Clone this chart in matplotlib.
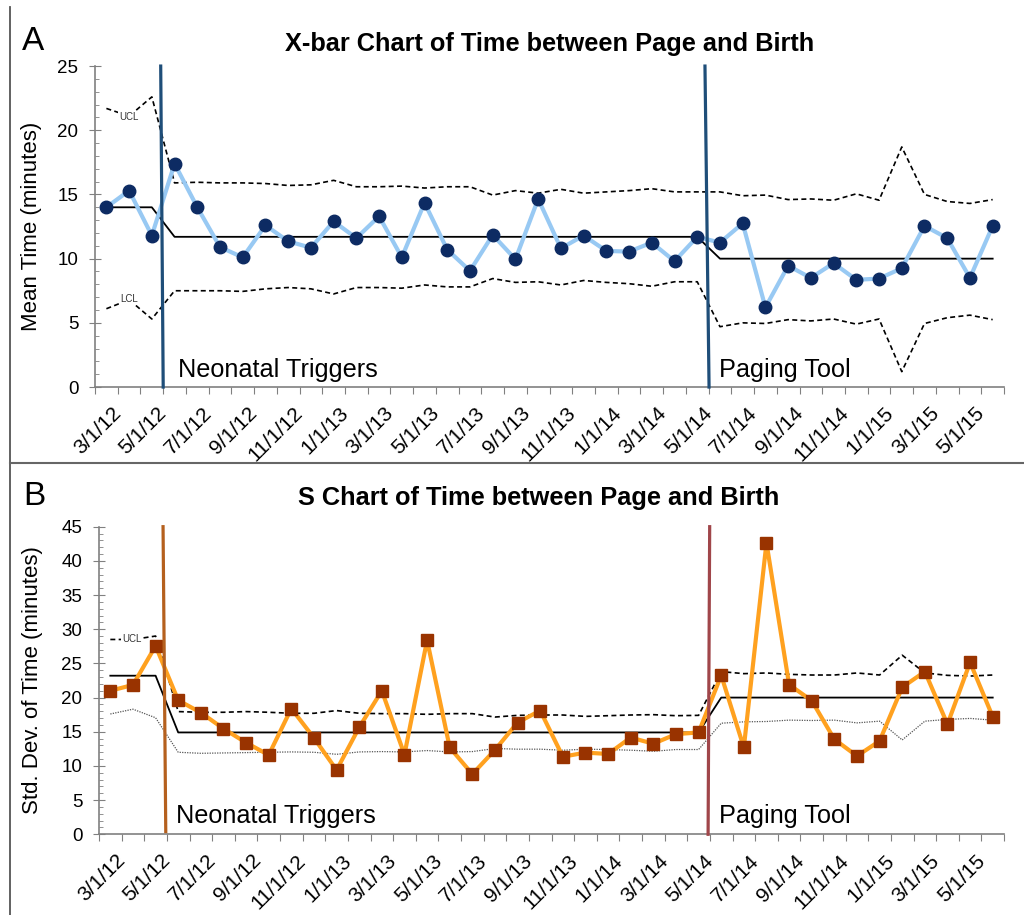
import numpy as np
import matplotlib.pyplot as plt
from matplotlib.lines import Line2D
import matplotlib.transforms as mtransforms

plt.rcParams['font.family'] = ['Liberation Sans', 'DejaVu Sans']

# tick labels (every second month)
month_labels = ['3/1/12', '5/1/12', '7/1/12', '9/1/12', '11/1/12', '1/1/13', '3/1/13',
                '5/1/13', '7/1/13', '9/1/13', '11/1/13', '1/1/14', '3/1/14', '5/1/14',
                '7/1/14', '9/1/14', '11/1/14', '1/1/15', '3/1/15', '5/1/15']

# A: X-bar chart
xbar_mean = [14.0, 15.3, 11.8, 17.4, 14.0, 10.9, 10.1, 12.6, 11.35, 10.85,
             12.9, 11.6, 13.3, 10.1, 14.35, 10.7, 9.05, 11.85, 9.95, 14.65,
             10.8, 11.8, 10.6, 10.55, 11.25, 9.8, 11.7, 11.25, 12.75, 6.2,
             9.45, 8.5, 9.65, 8.35, 8.45, 9.25, 12.55, 11.6, 8.5, 12.55]
xbar_cl = [14.0] * 3 + [11.7] * 24 + [10.0] * 13
xbar_ucl = [21.7, 21.1, 22.6, 15.9, 15.95, 15.9, 15.9, 15.85, 15.7, 15.75,
            16.1, 15.6, 15.6, 15.65, 15.5, 15.6, 15.6, 14.95, 15.3, 15.1,
            15.4, 15.1, 15.2, 15.3, 15.45, 15.2, 15.2, 15.2, 14.9, 14.95,
            14.6, 14.65, 14.55, 15.05, 14.55, 18.7, 15.0, 14.45, 14.3, 14.6]
xbar_lcl = [6.1, 6.8, 5.3, 7.5, 7.5, 7.5, 7.45, 7.65, 7.75, 7.65,
            7.25, 7.75, 7.75, 7.7, 7.95, 7.8, 7.8, 8.45, 8.15, 8.2,
            7.95, 8.3, 8.15, 8.05, 7.85, 8.2, 8.2, 4.7, 5.0, 4.95,
            5.25, 5.15, 5.3, 4.9, 5.3, 1.2, 4.95, 5.4, 5.6, 5.25]

# B: S chart
s_dev = [21.0, 21.85, 27.55, 19.6, 17.8, 15.45, 13.4, 11.6, 18.4, 14.1,
         9.4, 15.65, 21.0, 11.65, 28.4, 12.7, 8.8, 12.35, 16.35, 18.1,
         11.35, 11.95, 11.75, 14.15, 13.25, 14.65, 14.9, 23.25, 12.7, 42.65,
         21.9, 19.55, 13.9, 11.45, 13.65, 21.5, 23.8, 16.1, 25.15, 17.2]
s_cl = [23.2] * 3 + [14.9] * 24 + [20.0] * 13
s_ucl = [28.5, 28.5, 29.0, 17.95, 17.85, 17.85, 17.95, 17.85, 17.7, 17.7,
         18.1, 17.7, 17.65, 17.65, 17.55, 17.65, 17.65, 17.15, 17.4, 17.45,
         17.45, 17.25, 17.35, 17.45, 17.5, 17.35, 17.4, 23.8, 23.5, 23.6,
         23.4, 23.3, 23.3, 23.6, 23.3, 26.2, 23.6, 23.25, 23.15, 23.3]
s_lcl = [17.6, 18.3, 17.05, 12.0, 11.85, 11.9, 11.95, 12.0, 12.05, 12.0,
         11.7, 12.05, 12.1, 12.05, 12.25, 12.05, 12.1, 12.55, 12.45, 12.45,
         12.3, 12.45, 12.4, 12.3, 12.15, 12.4, 12.4, 16.25, 16.45, 16.5,
         16.7, 16.65, 16.7, 16.3, 16.55, 13.8, 16.55, 16.8, 16.95, 16.7]

x = np.arange(len(xbar_mean))
fig = plt.figure(figsize=(10.24, 9.15), dpi=100)


def style_axes(ax, ymax, label):
    ax.set_xlim(-0.5, len(x) - 0.5)
    ax.set_ylim(0, ymax)
    for s in ['top', 'right']:
        ax.spines[s].set_visible(False)
    for s in ['left', 'bottom']:
        ax.spines[s].set_color('#808080')
        ax.spines[s].set_linewidth(1.2)
    ax.set_yticks(np.arange(0, ymax + 1, 5))
    ax.set_yticks(np.arange(0, ymax + 1, 1), minor=True)
    ax.tick_params(axis='y', which='major', direction='inout', length=8,
                   color='#808080', labelsize=13.5, pad=8)
    ax.tick_params(axis='y', which='minor', direction='in', length=3,
                   color='#808080')
    # ticks between categories, labels on every other category
    ax.set_xticks(np.arange(-0.5, len(x), 1))
    ax.set_xticklabels([])
    ax.tick_params(axis='x', which='major', direction='out', length=5,
                   color='#808080')
    ax.set_xticks(x[::2], minor=True)
    ax.set_xticklabels(month_labels, minor=True)
    ax.tick_params(axis='x', which='minor', length=0, labelsize=15, pad=12)
    off = mtransforms.ScaledTranslation(5 / 100, 0, fig.dpi_scale_trans)
    for t in ax.get_xticklabels(minor=True):
        t.set_rotation(45)
        t.set_ha('right')
        t.set_rotation_mode('anchor')
        t.set_transform(t.get_transform() + off)
    ax.set_ylabel(label, fontsize=16)


# ---------- A ----------
axA = fig.add_axes([0.0928, 0.577, 0.8877, 0.3508])
axA.plot(x, xbar_ucl, color='black', lw=1.2, ls=(0, (3, 2)), zorder=2)
axA.plot(x, xbar_lcl, color='black', lw=1.2, ls=(0, (3, 2)), zorder=2)
axA.plot(x, xbar_cl, color='black', lw=1.3, zorder=2)
axA.plot(x, xbar_mean, color='#98C9F3', lw=3, marker='o', ms=9,
         mfc='#0D2B63', mec='#0D2B63', zorder=3)
axA.plot([2.39, 2.50], [25, 0], color='#1F4E79', lw=2.3, zorder=4, clip_on=False)
axA.plot([26.34, 26.52], [25, 0], color='#1F4E79', lw=2.3, zorder=4, clip_on=False)
axA.text(1, 21.0, 'UCL', fontsize=7, color='#333333', ha='center', va='center',
         bbox=dict(fc='white', ec='none', pad=1), zorder=2.5)
axA.text(1, 6.85, 'LCL', fontsize=7, color='#333333', ha='center', va='center',
         bbox=dict(fc='white', ec='none', pad=1), zorder=2.5)
axA.text(3.15, 0.8, 'Neonatal Triggers', fontsize=18.2, va='baseline')
axA.text(26.97, 0.8, 'Paging Tool', fontsize=18.2, va='baseline')
style_axes(axA, 25, 'Mean Time (minutes)')
axA.yaxis.set_label_coords(-0.058, 0.5)

# ---------- B ----------
axB = fig.add_axes([0.0967, 0.0882, 0.8838, 0.3362])
axB.plot(x, s_ucl, color='black', lw=1.2, ls=(0, (3, 2)), zorder=2)
axB.plot(x, s_lcl, color='#555555', lw=0.9, ls=(0, (1, 1)), zorder=2)
axB.plot(x, s_cl, color='black', lw=1.3, zorder=2)
axB.plot(x, s_dev, color='#FFA11F', lw=3, marker='s', ms=9,
         mfc='#993300', mec='#993300', zorder=3)
axB.plot([2.33, 2.45], [45, 0.4], color='#B5601E', lw=2.3, zorder=4, clip_on=False)
axB.plot([26.49, 26.42], [45, 0], color='#A0464A', lw=2.3, zorder=4, clip_on=False)
axB.text(0.96, 28.5, 'UCL', fontsize=7, color='#333333', ha='center', va='center',
         bbox=dict(fc='white', ec='none', pad=1), zorder=2.5)
axB.text(2.89, 1.7, 'Neonatal Triggers', fontsize=18.2, va='baseline')
axB.text(26.9, 1.7, 'Paging Tool', fontsize=18.2, va='baseline')
style_axes(axB, 45, 'Std. Dev. of Time (minutes)')
axB.yaxis.set_label_coords(-0.062, 0.5)

# titles and panel letters
fig.text(549.5 / 1024, 1 - 51 / 915, 'X-bar Chart of Time between Page and Birth',
         fontsize=18.3, fontweight='bold', ha='center', va='baseline')
fig.text(538.5 / 1024, 1 - 505 / 915, 'S Chart of Time between Page and Birth',
         fontsize=18.3, fontweight='bold', ha='center', va='baseline')
fig.text(22 / 1024, 1 - 50 / 915, 'A', fontsize=24, va='baseline')
fig.text(23 / 1024, 1 - 505 / 915, 'B', fontsize=24, va='baseline')

# panel frame lines
fig.add_artist(Line2D([9.5 / 1024, 9.5 / 1024], [0, 1 - 7 / 915],
                      transform=fig.transFigure, color='#555555', lw=1.3))
fig.add_artist(Line2D([9.5 / 1024, 1], [1 - 462.7 / 915, 1 - 462.7 / 915],
                      transform=fig.transFigure, color='#666666', lw=1.5))

fig.savefig('out.png', dpi=100)
